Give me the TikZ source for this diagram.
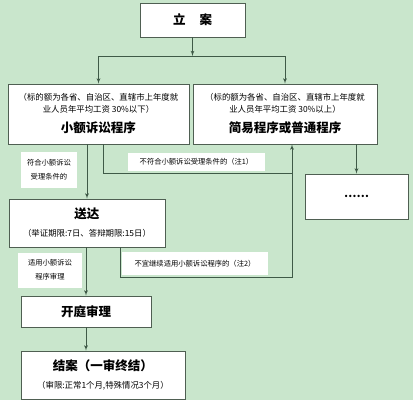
\documentclass[tikz,border=0pt]{standalone}
\usepackage{fontspec}
\setmainfont{Noto Sans CJK SC}
\usetikzlibrary{arrows,positioning}
\definecolor{mint}{HTML}{C9E6CC}
\definecolor{edge}{HTML}{4F5F52}
\definecolor{wire}{HTML}{3F5A47}
\tikzstyle{stage} = [rectangle, draw=edge, line width=0.9pt, fill=white, text centered, align=center, inner sep=0pt, font=\fontsize{8.4}{12}\selectfont]
\tikzstyle{tag} = [rectangle, fill=white, align=center, inner sep=0pt, font=\fontsize{7.3}{14}\selectfont]
\tikzstyle{line} = [draw, line width=0.8pt, color=wire, -latex']
\tikzstyle{wireline} = [draw, line width=0.8pt, color=wire]
\newcommand{\headtext}[1]{{\fontsize{12.5}{14}\selectfont\bfseries #1}}

\begin{document}
\begin{tikzpicture}[x=1pt,y=-1pt]
  \fill[mint] (0,0) rectangle (413,400);
  \useasboundingbox (0,0) rectangle (413,400);

  \node (lian) [stage, minimum width=105, minimum height=34] at (192.5,20) {\headtext{立\hspace{14pt}案}};
  \node (xiao) [stage, minimum width=181, minimum height=60] at (98.5,114) {（标的额为各省、自治区、直辖市上年度就\\业人员年平均工资 30\%以下）\\[8pt]\headtext{小额诉讼程序}};
  \node (putong) [stage, minimum width=184, minimum height=60] at (285,114) {（标的额为各省、自治区、直辖市上年度就\\业人员年平均工资 30\%以上）\\[8pt]\headtext{简易程序或普通程序}};
  \node (more) [stage, minimum width=103, minimum height=45] at (356.5,196.5) {\fontsize{11}{12}\selectfont\bfseries ……};
  \node (songda) [stage, minimum width=156, minimum height=48] at (87,223) {\headtext{送达}\\[6pt]（举证期限:7日、答辩期限:15日）};
  \node (kaiting) [stage, minimum width=130, minimum height=31] at (86,311.5) {\headtext{开庭审理}};
  \node (jiean) [stage, minimum width=164, minimum height=48] at (103,375) {\headtext{结案（一审终结）}\\[6pt]（审限:正常1个月,特殊情况3个月）};

  \node (fit) [tag, minimum width=56, minimum height=36] at (49,170) {符合小额诉讼\\受理条件的};
  \node (unfit) [tag, minimum width=137, minimum height=18] at (196.5,162) {不符合小额诉讼受理条件的（注1）};
  \node (apply) [tag, minimum width=64, minimum height=35] at (50,270) {适用小额诉讼\\程序审理};
  \node (switch) [tag, minimum width=146, minimum height=23] at (195,263.5) {不宜继续适用小额诉讼程序的（注2）};

  \coordinate (fork) at (192.5,56);
  \coordinate (tapa) at (103,0);
  \coordinate (tapb) at (120,0);
  \coordinate (bend) at (292,173);
  \coordinate (up) at (292,277);

  \draw [line] (lian) -- (fork);
  \draw [line] (fork) -| (xiao);
  \draw [line] (fork) -| (putong);
  \draw [line] (xiao.south -| songda) -- (songda);
  \draw [wireline] (xiao.south -| tapa) |- (bend);
  \draw [line] (songda.south -| tapb) |- (up) -- (putong.south -| up);
  \draw [line] (putong.south -| more) -- (more);
  \draw [line] (songda.south -| kaiting) -- (kaiting);
  \draw [line] (kaiting) -- (kaiting |- jiean.north);
\end{tikzpicture}
\end{document}
